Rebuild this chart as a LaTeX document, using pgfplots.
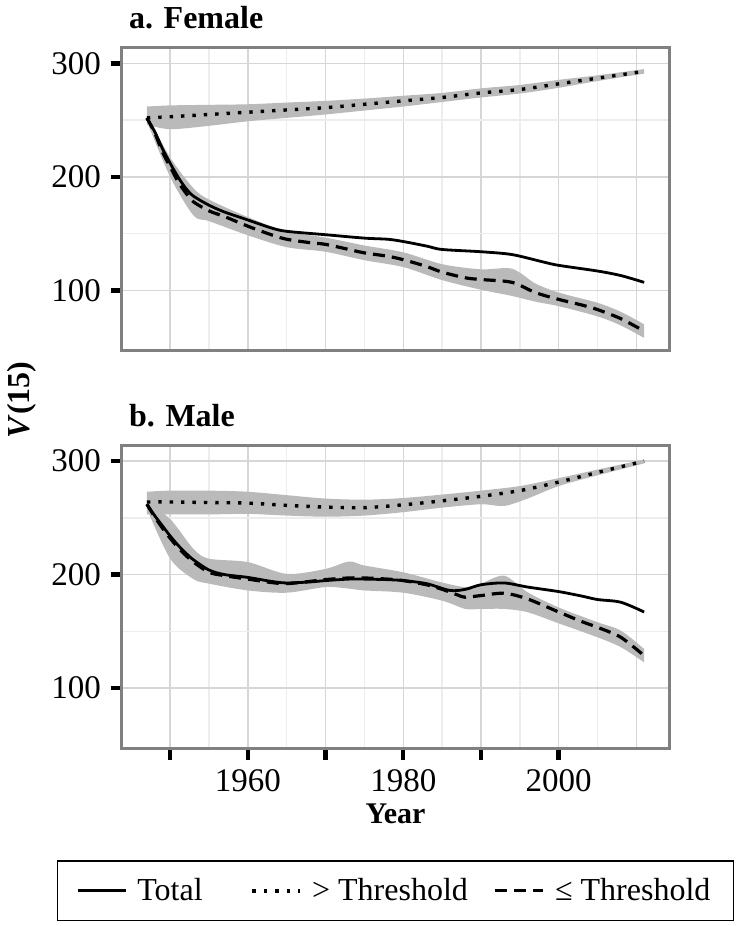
\documentclass[border=0pt]{standalone}
\usepackage{fontspec}
\setmainfont{Liberation Serif}
\usepackage{pgfplots}
\pgfplotsset{compat=1.18}
\usepgfplotslibrary{fillbetween}

\definecolor{ribbon}{gray}{0.73}
\definecolor{frame}{gray}{0.5}
\definecolor{gridmaj}{gray}{0.84}
\definecolor{gridmin}{gray}{0.93}

\pgfplotsset{
 panel/.style={
  scale only axis, width=273.5pt, height=151.5pt,
  xmin=1943.8, xmax=2014.2, ymin=46.5, ymax=313.6,
  axis line style={frame, line width=1.5pt},
  xtick={1950,1960,...,2000},
  minor xtick={1955,1965,...,2005},
  extra x ticks={2010}, extra x tick labels={},
  extra x tick style={grid=major, major tick length=0pt},
  ytick={100,200,300}, minor ytick={150,250},
  grid=both,
  major grid style={gridmaj, line width=0.7pt},
  minor grid style={gridmin, line width=0.7pt},
  tick align=outside,
  major tick length=5.5pt, minor tick length=0pt,
  major tick style={black, line width=2.2pt},
  xtick pos=bottom, ytick pos=left,
  /pgf/number format/assume math mode=true,
  yticklabel style={font=\fontsize{16.5}{18}\selectfont, xshift=-1.5pt},
  xticklabel style={font=\fontsize{16.5}{18}\selectfont, yshift=-1.5pt},
  title style={at={(0,1)}, anchor=base west, yshift=3.5pt, font=\bfseries\fontsize{16}{19}\selectfont},
  clip=false,
 },
 tot/.style={black, line width=1.4pt, smooth, tension=0.5},
 abv/.style={black, line width=1.7pt, dash pattern=on 1.7pt off 4pt, smooth, tension=0.5},
 bel/.style={black, line width=1.6pt, dash pattern=on 6pt off 3.5pt, smooth, tension=0.5},
}

\begin{document}
\begin{tikzpicture}
\begin{axis}[panel, name=top, title={a. Female}, xmajorticks=false]
% ribbon > threshold
\addplot[name path=fau, draw=none, forget plot, smooth, tension=0.5] coordinates {
(1947,262)(1950,263)(1955,263.5)(1960,264)(1965,265.5)(1970,267)(1975,269)(1980,271.5)(1985,274)(1990,278)(1995,281)(2000,285.5)(2005,289.5)(2011,295)};
\addplot[name path=fal, draw=none, forget plot, smooth, tension=0.5] coordinates {
(1947,246)(1950,242)(1955,245)(1960,249)(1965,252)(1970,255)(1975,258.5)(1980,262)(1985,266)(1990,270)(1995,273.5)(2000,278.5)(2005,284.5)(2011,291)};
\addplot[ribbon, forget plot] fill between[of=fau and fal];
% ribbon <= threshold
\addplot[name path=fbu, draw=none, forget plot, smooth, tension=0.5] coordinates {
(1947,255)(1950,217)(1953,190)(1955,180)(1960,164.5)(1965,152)(1970,146.5)(1975,139.5)(1980,133.5)(1985,123)(1990,118.5)(1994,119)(1997,106)(2000,98)(2005,89)(2008,81)(2011,70)};
\addplot[name path=fbl, draw=none, forget plot, smooth, tension=0.5] coordinates {
(1947,249)(1950,200)(1953,166)(1955,161)(1960,148.5)(1965,138)(1970,134)(1975,126.5)(1980,120.5)(1985,109)(1990,100.5)(1994,95)(1997,90)(2000,86)(2005,77)(2008,69)(2011,58)};
\addplot[ribbon, forget plot] fill between[of=fbu and fbl];
% lines
\addplot[tot] coordinates {
(1947,251.5)(1948,240)(1949,225)(1950,212)(1951,200)(1952,190)(1953,183)(1955,175)(1957,169)(1960,162)(1963,155)(1965,152)(1970,149)(1975,146)(1978,145)(1980,143)(1983,139)(1985,136)(1990,134)(1994,131.5)(1998,125)(2000,122)(2005,117)(2008,113)(2011,107)};
\addplot[abv] coordinates {
(1947,252)(1950,253)(1955,255)(1960,257)(1965,259)(1970,261)(1975,264)(1980,267)(1985,270)(1990,274)(1995,277)(2000,282)(2005,287)(2011,293)};
\addplot[bel] coordinates {
(1947,252)(1948,239)(1949,222)(1950,209)(1951,196)(1952,186)(1953,178)(1955,170)(1957,165)(1960,156.5)(1963,149)(1965,145)(1968,142)(1970,140.5)(1973,136)(1975,133)(1978,130)(1980,127)(1983,121)(1985,116)(1988,111)(1990,109.5)(1994,107)(1997,98)(2000,92)(2003,87)(2005,83)(2008,75)(2011,64)};
\end{axis}

\begin{axis}[panel, name=bot, title={b. Male},
  at={(top.south west)}, anchor=north west, yshift=-47.35pt,
  xticklabels={,1960,,1980,,2000},
  xlabel={Year},
  xlabel style={at={(0.5,-0.2475)}, anchor=base, font=\bfseries\fontsize{15}{18}\selectfont},
  legend columns=3,
  legend style={at={(0.5,-0.469)}, anchor=center, draw=black, line width=0.8pt,
    font=\fontsize{16}{19}\selectfont, inner xsep=9.5pt, inner ysep=6.5pt,
    /tikz/every odd column/.append style={column sep=3pt},
    /tikz/column 2/.append style={column sep=22pt},
    /tikz/column 4/.append style={column sep=11pt}},
  legend image code/.code={\draw[#1] (0pt,0pt) -- (24pt,0pt);},
]
\addplot[name path=mau, draw=none, forget plot, smooth, tension=0.5] coordinates {
(1947,273)(1950,274)(1955,274)(1960,273)(1965,270)(1970,267)(1975,266)(1980,267.5)(1985,270.5)(1990,274)(1995,278)(2000,285)(2005,292.5)(2011,301.5)};
\addplot[name path=mal, draw=none, forget plot, smooth, tension=0.5] coordinates {
(1947,253)(1950,253)(1955,253)(1960,253.5)(1965,252)(1970,251)(1975,252)(1980,255)(1985,259)(1990,262)(1993,260.5)(1996,267)(2000,278)(2005,287.5)(2011,298)};
\addplot[ribbon, forget plot] fill between[of=mau and mal];
\addplot[name path=mbu, draw=none, forget plot, smooth, tension=0.5] coordinates {
(1947,264)(1950,249)(1953,222.6)(1955,214)(1960,211)(1965,200.6)(1970,205)(1973,211.5)(1975,208)(1980,202)(1985,193)(1988,189)(1990,192)(1993,199)(1996,184.4)(2000,171)(2005,158)(2008,150.6)(2011,134.4)};
\addplot[name path=mbl, draw=none, forget plot, smooth, tension=0.5] coordinates {
(1947,258)(1950,214)(1953,196)(1955,192)(1960,186)(1965,184)(1970,189)(1973,187.6)(1975,186)(1980,184)(1985,177)(1988,169.7)(1990,169.7)(1993,169.7)(1996,166.8)(2000,157)(2005,144.7)(2008,136)(2011,122.6)};
\addplot[ribbon, forget plot] fill between[of=mbu and mbl];
\addplot[tot] coordinates {
(1947,262)(1948,252)(1949,243)(1950,234)(1951,226)(1952,219)(1953,213)(1955,204)(1957,200)(1960,197.5)(1963,194)(1965,192.6)(1968,193.5)(1970,194.7)(1973,196)(1975,196)(1978,195.5)(1980,194.7)(1983,192)(1986,186)(1988,187)(1990,191)(1993,192.6)(1996,189)(2000,185)(2003,181)(2005,178)(2008,175.6)(2011,167)};
\addlegendentry{Total}
\addplot[abv] coordinates {
(1947,264)(1950,264)(1955,263.5)(1960,263)(1965,261)(1970,259.5)(1975,259)(1980,261.5)(1985,265)(1990,269)(1995,274)(2000,281.5)(2005,290)(2011,300)};
\addlegendentry{> Threshold}
\addplot[bel] coordinates {
(1947,262)(1948,251)(1949,241)(1950,232)(1951,224)(1952,217)(1953,211)(1955,202)(1957,199)(1960,196)(1963,193)(1965,192)(1968,194)(1970,195.6)(1973,197)(1975,197)(1978,196)(1980,194.7)(1983,191)(1985,187)(1987,182)(1988,180)(1990,181.5)(1993,183.5)(1996,178.5)(2000,167)(2003,158.5)(2005,153.5)(2008,144.7)(2011,128.5)};
\addlegendentry{≤ Threshold}
\end{axis}

\node[rotate=90, font=\bfseries\fontsize{16}{19}\selectfont] at ([shift={(-50pt,-176pt)}]top.north west) {\textit{V}(15)};
\pgfresetboundingbox
\path[use as bounding box] ([shift={(-61pt,24pt)}]top.north west) rectangle ++(375pt,-463pt);
\end{tikzpicture}
\end{document}
